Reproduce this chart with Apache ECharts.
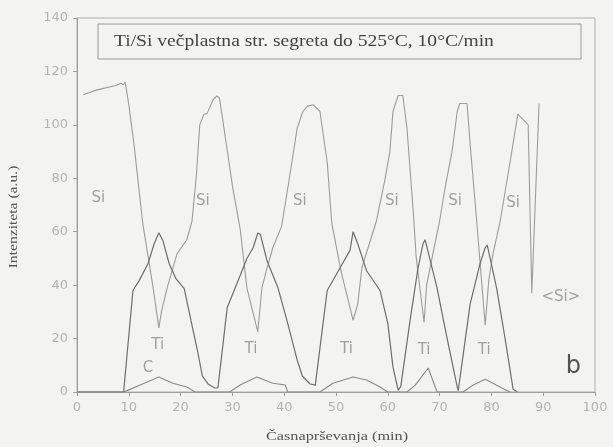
<!DOCTYPE html>
<html>
<head>
<meta charset="utf-8">
<script src="https://cdn.jsdelivr.net/npm/echarts@6/dist/echarts.min.js"></script>
<style>
html,body{margin:0;padding:0;background:#f3f3f2;}
#c{width:613px;height:447px;}
</style>
</head>
<body>
<div id="c"></div>
<script>
// ---- data ----
const xTicks = [0,10,20,30,40,50,60,70,80,90,100];
const yTicks = [0,20,40,60,80,100,120,140];

const siPoints = [
  [1.2,111.3],[3.7,113],[7.5,114.7],[8.5,115.6],[8.9,115],[9.3,116],[10,107.6],[11,92.7],[12.7,63],
  [14.7,39],[15.8,24],[16.3,30],[17.4,39],[19.3,51.7],[21.2,57],[22.2,64],[23,80],[23.7,100],[24.5,104],
  [25.1,104.2],[26.3,109.5],[27,110.8],[27.5,110],[28.2,101],[30.1,76],[31.5,61],[32.8,39],[34.9,22.5],
  [35.7,39],[36.7,46.5],[37.8,54],[39.5,62],[41,80],[42.5,98.7],[43.6,105],[44.5,107],[45.6,107.5],
  [46.9,105],[48.3,86],[49.2,63],[51,45],[53.3,26.8],[54.2,33],[55,46.5],[57.8,64],[59.5,80],[60.4,90],
  [61,105],[62,111],[62.9,111],[63.7,98.7],[64.9,67.8],[65.5,50],[67,26],[67.5,40],[68.7,51.7],[70,64],
  [71.2,78],[72.4,90],[73.4,105],[73.9,108],[75.3,108],[75.9,92.7],[77.2,63],[78.8,25],[79.5,42],
  [80.3,51.7],[81.7,64],[83.6,86],[85.1,104],[87.1,100],[87.8,37],[89.2,108]
];

const tiPoints = [
  [0,0],[9,0],[10.8,38],[12,41.7],[13.7,48],[14.9,55.5],[15.8,59.6],[16.6,56.6],[17.8,48],[19.1,42.4],
  [20.7,38.7],[22,26.8],[23.2,16],[24.2,6],[25.3,3],[26.6,1.5],[27.2,1.5],[29,31.6],[31.5,43.6],[32.8,50],
  [34,54],[34.9,59.5],[35.4,59],[36.7,49],[38.8,39],[40.5,27],[42.5,12],[43.5,6],[45,3],[46,2.6],
  [48.3,38],[50.8,46.5],[52.7,53],[53.3,60],[54.2,55.5],[55.9,45.4],[58.5,38],[60,25.7],[61,9.3],[62,0.7],
  [62.5,2],[64.3,26.8],[65.8,46],[66.8,55.5],[67.2,57],[69.5,39],[71.4,20.5],[73.4,1.9],[73.6,0.5],
  [75.9,33],[77.8,48],[78.8,54],[79.2,55],[81,39],[82.6,20.5],[84.2,1],[85,0]
];

const cPoints = [
  [0,0],[9,0],[9.9,0.7],[12.2,2.6],[15.8,5.6],[18.5,3.3],[21.2,1.9],[22.8,0],[29.5,0],[31.5,2.6],
  [34.7,5.6],[37.8,3.3],[40.2,2.6],[40.7,0],[46.9,0],[49.4,3.3],[53.3,5.6],[55.9,4.5],[58.5,1.9],[60,0],
  [63.7,0],[65.3,2.6],[67.8,9],[69.5,0],[74.5,0],[76.5,2.6],[78.8,4.8],[80.3,3.3],[82,1.5],[83.6,0]
];

// curve annotations (x, y, text) in data units
const curveLabels = [
  [4.1,72.6,'Si'],[24.3,71.5,'Si'],[43,71.5,'Si'],[60.8,71.5,'Si'],[73,71.5,'Si'],[84.2,70.7,'Si'],
  [15.6,17.5,'Ti'],[13.7,9,'C'],[33.6,16,'Ti'],[52,16,'Ti'],[67,15.6,'Ti'],[78.6,15.6,'Ti'],
  [93.4,35.7,'<Si>']
];
const panelLetter = [[95.8,9.3,'b']];

const titleText = 'Ti/Si večplastna str. segreta do 525°C, 10°C/min';
const xName = 'Časnaprševanja (min)';
const yName = 'Intenziteta (a.u.)';

// ---- chart ----
const chart = echarts.init(document.getElementById('c'), null, {renderer:'canvas'});
const axisCol = '#a0a0a0';
const tickFont = {fontFamily:'DejaVu Sans', fontSize:13, color:'#b4b4b4'};

chart.setOption({
  backgroundColor:'#f3f3f2',
  animation:false,
  grid:{left:77, right:18, top:18, bottom:55, show:true, borderColor:'#b0b0b0', borderWidth:1, backgroundColor:'transparent'},
  xAxis:{
    type:'value', min:xTicks[0], max:xTicks[xTicks.length-1], interval:10,
    axisLine:{lineStyle:{color:axisCol}},
    axisTick:{show:true, length:4, lineStyle:{color:axisCol}},
    axisLabel:Object.assign({margin:9}, tickFont),
    splitLine:{show:false}
  },
  yAxis:{
    type:'value', min:yTicks[0], max:yTicks[yTicks.length-1], interval:20,
    axisLine:{show:true, lineStyle:{color:axisCol}},
    axisTick:{show:true, length:4, lineStyle:{color:axisCol}},
    axisLabel:Object.assign({margin:9}, tickFont),
    splitLine:{show:false}
  },
  series:[
    {name:'Si', type:'line', data:siPoints, symbol:'none', lineStyle:{color:'#9c9c9c', width:1.1}, z:2},
    {name:'Ti', type:'line', data:tiPoints, symbol:'none', lineStyle:{color:'#6e6e6e', width:1.2}, z:3},
    {name:'C', type:'line', data:cPoints, symbol:'none', lineStyle:{color:'#8a8a8a', width:1.1}, z:3},
    {type:'scatter', data:curveLabels, symbolSize:1, itemStyle:{color:'rgba(0,0,0,0)'}, z:5, silent:true,
     label:{show:true, position:'inside', formatter:p=>p.data[2], fontFamily:'DejaVu Sans', fontSize:15, color:'#8c8c8c'}},
    {type:'scatter', data:panelLetter, symbolSize:1, itemStyle:{color:'rgba(0,0,0,0)'}, z:5, silent:true,
     label:{show:true, position:'inside', formatter:p=>p.data[2], fontFamily:'DejaVu Sans', fontSize:24, color:'#2a2a2a'}}
  ],
  graphic:[
    {type:'rect', shape:{x:98, y:24, width:483, height:35}, style:{fill:'#f3f3f2', stroke:'#9a9a9a', lineWidth:1}, z:10},
    {type:'text', x:114, y:42, scaleX:1.15, style:{text:titleText, font:'17px "Liberation Serif"', fill:'#444', textVerticalAlign:'middle'}, z:11},
    {type:'text', x:337, y:437, scaleX:1.25, style:{text:xName, font:'13px "Liberation Serif"', fill:'#555', textAlign:'center', textVerticalAlign:'middle'}, z:11},
    {type:'text', x:14, y:217, rotation:Math.PI/2, scaleX:1.3, style:{text:yName, font:'12px "Liberation Serif"', fill:'#555', textAlign:'center', textVerticalAlign:'middle'}, z:11}
  ]
});
</script>
</body>
</html>
